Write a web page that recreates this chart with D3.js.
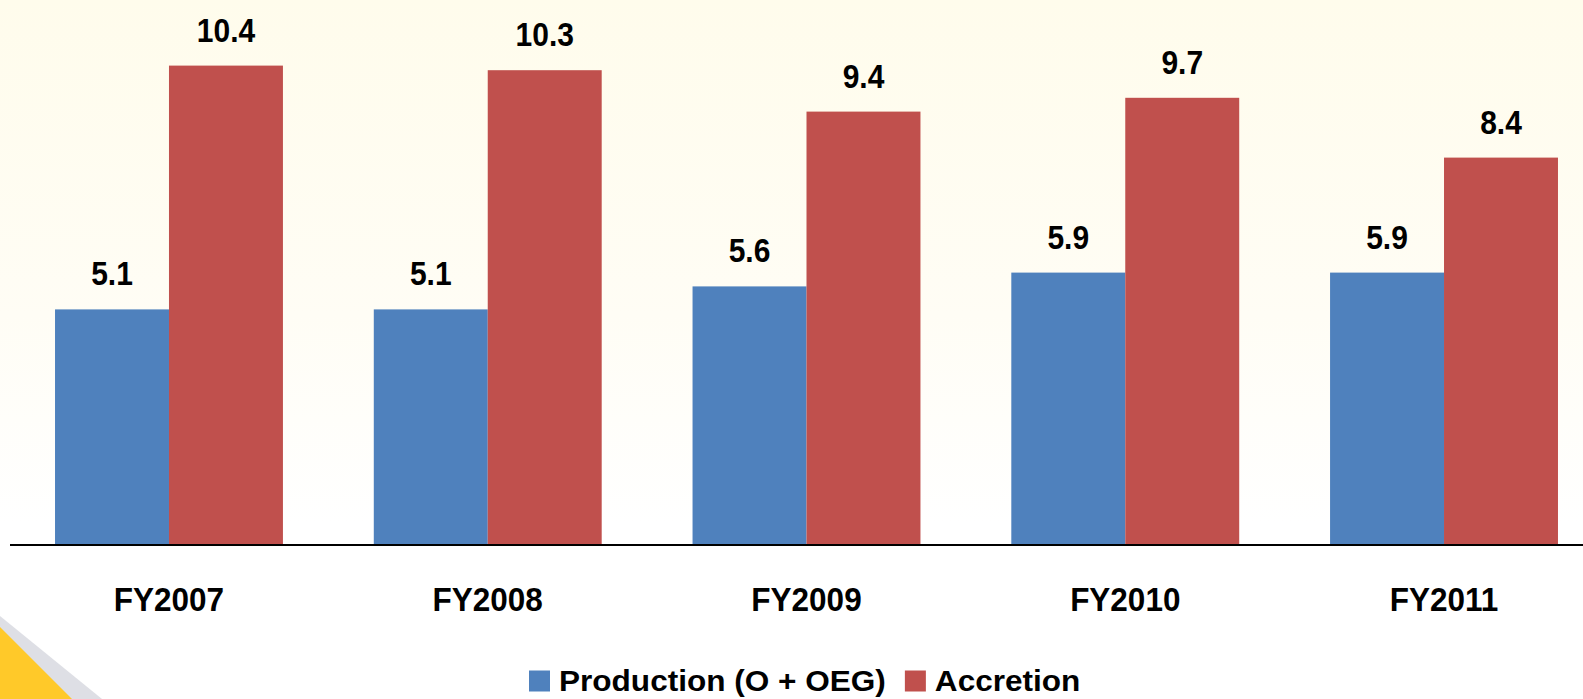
<!DOCTYPE html>
<html>
<head>
<meta charset="utf-8">
<script src="https://cdn.jsdelivr.net/npm/d3@7"></script>
<style>
  html, body { margin: 0; padding: 0; background: #fff; }
  svg { display: block; }
  text { font-family: "Liberation Sans", Arial, sans-serif; font-weight: bold; fill: #000; }
</style>
</head>
<body>
<svg id="chart" width="1583" height="699"></svg>
<script>
// Fiscal years shown on the category axis
const categories = ["FY2007", "FY2008", "FY2009", "FY2010", "FY2011"];
// Series names and values
const seriesNames = ["Production (O + OEG)", "Accretion"];
const production = [5.1, 5.1, 5.6, 5.9, 5.9];
const accretion = [10.4, 10.3, 9.4, 9.7, 8.4];
const seriesColors = ["#4F81BD", "#C0504D"];

const W = 1583, H = 699;
const svg = d3.select("#chart");

// Background: pale cream fading to white
const defs = svg.append("defs");
const grad = defs.append("linearGradient")
  .attr("id", "bg").attr("x1", 0).attr("y1", 0).attr("x2", 0).attr("y2", 1);
grad.append("stop").attr("offset", "0%").attr("stop-color", "#FFFCEC");
grad.append("stop").attr("offset", "45%").attr("stop-color", "#FFFDF5");
grad.append("stop").attr("offset", "75%").attr("stop-color", "#FFFFFF");
grad.append("stop").attr("offset", "100%").attr("stop-color", "#FFFFFF");
svg.append("rect").attr("width", W).attr("height", H).attr("fill", "url(#bg)");

// Decorative corner wedge (grey band + yellow triangle)
svg.append("path")
  .attr("d", "M0,616 L102,699 L0,699 Z")
  .attr("fill", "#DEDFE5");
svg.append("path")
  .attr("d", "M0,627 L72,699 L0,699 Z")
  .attr("fill", "#FFC929");

// Scales
const baseY = 544;
const x0 = d3.scaleBand()
  .domain(categories)
  .range([9.6, 1603.4])
  .paddingInner(0.285)
  .paddingOuter(0.1425);
const x1 = d3.scaleBand()
  .domain(seriesNames)
  .range([0, x0.bandwidth()]);
const y = d3.scaleLinear()
  .domain([0, 10])
  .range([baseY, baseY - 460]);

const rows = categories.map((c, i) => ({
  cat: c,
  vals: [
    { s: seriesNames[0], v: production[i], color: seriesColors[0] },
    { s: seriesNames[1], v: accretion[i], color: seriesColors[1] }
  ]
}));

const groups = svg.selectAll("g.grp")
  .data(rows)
  .join("g")
  .attr("class", "grp")
  .attr("transform", d => `translate(${x0(d.cat)},0)`);

groups.selectAll("rect")
  .data(d => d.vals)
  .join("rect")
  .attr("x", d => x1(d.s))
  .attr("y", d => y(d.v))
  .attr("width", x1.bandwidth())
  .attr("height", d => y(0) - y(d.v))
  .attr("fill", d => d.color);

// Value labels above bars (slightly tall lettering)
groups.selectAll("g.val")
  .data(d => d.vals)
  .join("g")
  .attr("class", "val")
  .attr("transform", d => `translate(${x1(d.s) + x1.bandwidth() / 2},${y(d.v) - 24}) scale(1,1.08)`)
  .append("text")
  .attr("text-anchor", "middle")
  .style("font-size", "30px")
  .text(d => d.v.toFixed(1));

// Category axis
const axis = svg.append("g")
  .attr("transform", `translate(0,${baseY})`)
  .call(d3.axisBottom(x0).tickSize(0).tickPadding(0));
axis.select(".domain").remove();
axis.append("line")
  .attr("x1", 10).attr("x2", W)
  .attr("y1", 1).attr("y2", 1)
  .attr("stroke", "#000").attr("stroke-width", 2.2);
axis.selectAll(".tick text")
  .attr("y", 0)
  .attr("dy", null)
  .attr("transform", "translate(0,66.5) scale(1,1.08)")
  .style("font-size", "31.5px")
  .style("font-family", "'Liberation Sans', Arial, sans-serif")
  .style("font-weight", "bold")
  .attr("fill", "#000");

// Legend
const legend = svg.append("g").attr("transform", "translate(529,0)");
let lx = 0;
seriesNames.forEach((name, i) => {
  const item = legend.append("g").attr("transform", `translate(${lx},0)`);
  item.append("rect")
    .attr("x", 0).attr("y", 670.5)
    .attr("width", 21).attr("height", 21)
    .attr("fill", seriesColors[i]);
  const t = item.append("text")
    .attr("transform", "translate(30,691) scale(1.07,1)")
    .style("font-size", "29.5px")
    .text(name);
  const w = t.node().getComputedTextLength() * 1.07;
  lx += 30 + w + 19;
});
</script>
</body>
</html>
